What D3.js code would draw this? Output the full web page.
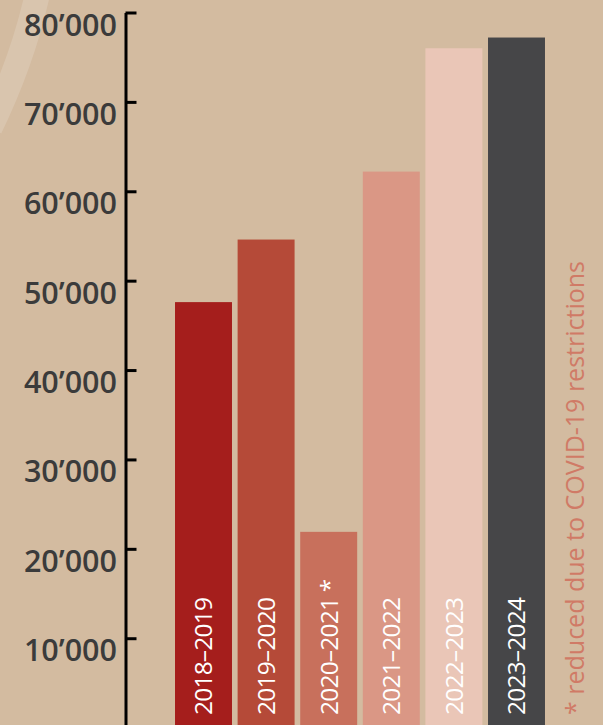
<!DOCTYPE html>
<html>
<head>
<meta charset="utf-8">
<script src="https://cdn.jsdelivr.net/npm/d3@7"></script>
<style>
  html, body { margin: 0; padding: 0; background: #d3bba0; }
  svg { display: block; }
</style>
</head>
<body>
<div id="chart"></div>
<script>
// seasons, visitors per season
const seasons = ["2018–2019", "2019–2020", "2020–2021", "2021–2022", "2022–2023", "2023–2024"];
const visitors = [47600, 54600, 21900, 62200, 76000, 77200];
const seasonLabels = ["2018–2019", "2019–2020", "2020–2021 *", "2021–2022", "2022–2023", "2023–2024"];
const barColors = ["#a51e1c", "#b54a38", "#c8705c", "#da9785", "#eac6b7", "#464648"];
const yTicks = [10000, 20000, 30000, 40000, 50000, 60000, 70000, 80000];
const note = "* reduced due to COVID-19 restrictions";

function draw() {
    const width = 603, height = 725;

    const svg = d3.select("#chart")
        .append("svg")
        .attr("width", width)
        .attr("height", height);

    svg.append("rect")
        .attr("width", width)
        .attr("height", height)
        .attr("fill", "#d3bba0");

    // faint swoosh in the corner
    svg.append("path")
        .attr("d", "M37,-4 Q22,62 -10,128")
        .attr("fill", "none")
        .attr("stroke", "#ffffff")
        .attr("stroke-opacity", 0.15)
        .attr("stroke-width", 25);

    const x = d3.scaleBand()
        .domain(seasons)
        .range([172.2, 547.8])
        .paddingInner(0.09)
        .paddingOuter(0.045);

    const y = d3.scaleLinear()
        .domain([0, 80000])
        .range([727.6, 12.5]);

    const color = d3.scaleOrdinal()
        .domain(seasons)
        .range(barColors);

    svg.append("g")
        .selectAll("rect")
        .data(seasons)
        .enter().append("rect")
            .attr("x", d => x(d))
            .attr("y", (d, i) => y(visitors[i]))
            .attr("width", x.bandwidth())
            .attr("height", (d, i) => y(0) - y(visitors[i]))
            .attr("fill", d => color(d));

    svg.append("g")
        .selectAll("text")
        .data(seasons)
        .enter().append("text")
            .attr("transform", d => `translate(${x(d) + x.bandwidth() / 2},715) rotate(-90)`)
            .attr("dy", "0.36em")
            .attr("fill", "#ffffff")
            .style("font-family", "'Open Sans', sans-serif")
            .style("font-size", "24.5px")
            .style("letter-spacing", "-0.8px")
            .text((d, i) => seasonLabels[i]);

    // axis: line with ticks pointing right, labels drawn below each tick
    const axis = svg.append("g")
        .attr("transform", "translate(125.5,0)")
        .call(d3.axisRight(y).tickValues(yTicks).tickSize(11).tickSizeOuter(0).tickFormat(""));

    axis.select(".domain").attr("stroke", "#000").attr("stroke-width", 3);
    axis.selectAll(".tick line").attr("stroke", "#000").attr("stroke-width", 3);

    svg.append("g")
        .selectAll("text")
        .data(yTicks)
        .enter().append("text")
            .attr("x", 117)
            .attr("y", d => y(d) + 23)
            .attr("text-anchor", "end")
            .attr("fill", "#3b3b3b")
            .style("font-family", "'Open Sans', sans-serif")
            .style("font-size", "30.5px")
            .style("font-weight", 600)
            .text(d => d3.format(",")(d).replace(",", "’"));

    svg.append("text")
        .attr("transform", "translate(584,715) rotate(-90)")
        .attr("fill", "#d07a66")
        .style("font-family", "'Open Sans', sans-serif")
        .style("font-size", "25px")
        .text(note);
}

draw();
</script>
</body>
</html>
